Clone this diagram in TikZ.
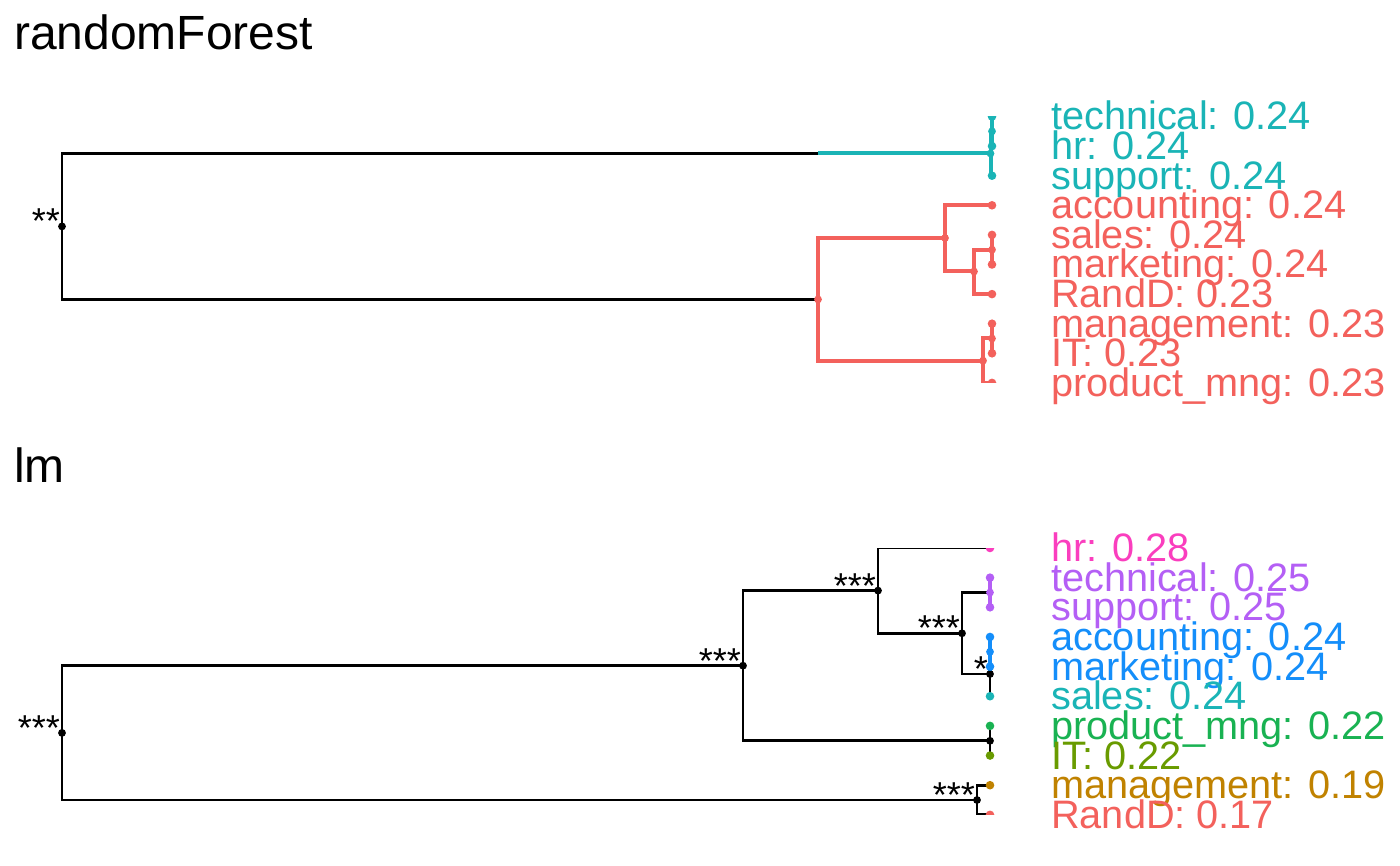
\documentclass[tikz,border=0pt]{standalone}
\usepackage{fontspec}
\setmainfont{Liberation Sans}
\usepackage{tikz}
\definecolor{clusred}{RGB}{243,97,92}
\definecolor{clusteal}{RGB}{26,180,182}
\definecolor{cluspink}{RGB}{250,62,190}
\definecolor{cluspurple}{RGB}{180,95,245}
\definecolor{clusblue}{RGB}{20,142,250}
\definecolor{clusgreen}{RGB}{25,178,82}
\definecolor{clusolive}{RGB}{105,155,0}
\definecolor{clusbrown}{RGB}{192,130,0}
\tikzset{dot/.style={circle,inner sep=0pt,outer sep=0pt,minimum size=7.8pt,fill=#1},dot/.default=black}
\tikzset{leafdot/.style={dot=#1,minimum size=8.6pt}}
\tikzset{branch/.style={black,line width=2.8pt}}
\tikzset{clus/.style={draw=#1,line width=4pt}}
\tikzset{clusthin/.style={draw=#1,line width=3.4pt}}
\tikzset{leaf/.style={anchor=base west,inner sep=0pt,font=\fontsize{39.7}{40}\selectfont}}
\tikzset{sig/.style={anchor=base east,inner sep=0pt,font=\fontsize{36}{36}\selectfont}}
\tikzset{title/.style={anchor=base west,inner sep=0pt,font=\fontsize{48}{49}\selectfont}}
\begin{document}
\begin{tikzpicture}[x=1pt,y=-1pt]
  \useasboundingbox (0,0) rectangle (1400,866);
  % Titles
  \node[title] (rftitle) at (14,50) {randomForest};
  \node[title] (lmtitle) at (14,482) {lm};

  % randomForest: leaves and labels
  \foreach \n/\k/\txt/\col in {tech/0/technical: 0.24/clusteal,hr/1/hr: 0.24/clusteal,
    support/2/support: 0.24/clusteal,acc/3/accounting: 0.24/clusred,sales/4/sales: 0.24/clusred,
    mark/5/marketing: 0.24/clusred,RandD/6/RandD: 0.23/clusred,manag/7/management: 0.23/clusred,
    IT/8/IT: 0.23/clusred,prod/9/product\_mng: 0.23/clusred}
  {
    \coordinate (rf\n) at (992,{116.5+29.6*\k});
    \node[leaf,text=\col] (rf\n lab) at (1051,{130+29.6*\k}) {\txt};
  }
  % randomForest: inner nodes
  \coordinate (rfroot) at (62,226.4);
  \coordinate (rfcut) at (818,153.5);
  \coordinate (rft) at (990.5,153.5);
  \coordinate (rfg) at (992,131.3);
  \coordinate (rfred) at (818,299.4);
  \coordinate (rfa) at (945,238);
  \coordinate (rfc) at (974,271.5);
  \coordinate (rfd) at (992,249.7);
  \coordinate (rfb) at (983,360.7);
  \coordinate (rfe) at (992,338.5);

  \begin{scope}
    \clip (0,116.5) rectangle (1040,382.9);
    \draw[branch] (rfroot) |- (rfcut);
    \draw[branch] (rfroot) |- (rfred);
    \draw[clus=clusteal] (rfcut) -- (rft);
    \draw[clus=clusteal] (rft) |- (rfg);
    \draw[clus=clusteal] (rft) |- (rfsupport);
    \draw[clus=clusteal] (rfg) |- (rftech);
    \draw[clus=clusteal] (rfg) |- (rfhr);
    \draw[clus=clusred] (rfred) |- (rfa);
    \draw[clus=clusred] (rfred) |- (rfb);
    \draw[clus=clusred] (rfa) |- (rfacc);
    \draw[clus=clusred] (rfa) |- (rfc);
    \draw[clus=clusred] (rfc) |- (rfd);
    \draw[clus=clusred] (rfc) |- (rfRandD);
    \draw[clus=clusred] (rfd) |- (rfsales);
    \draw[clus=clusred] (rfd) |- (rfmark);
    \draw[clus=clusred] (rfb) |- (rfe);
    \draw[clus=clusred] (rfb) |- (rfprod);
    \draw[clus=clusred] (rfe) |- (rfmanag);
    \draw[clus=clusred] (rfe) |- (rfIT);
    % dots
    \node[dot] (rfroot dot) at (rfroot) {};
    \foreach \n in {rft,rfg}
      \node[dot=clusteal] (\n dot) at (\n) {};
    \foreach \n in {rfred,rfa,rfc,rfd,rfb,rfe}
      \node[dot=clusred] (\n dot) at (\n) {};
    \foreach \n in {tech,hr,support}
      \node[leafdot=clusteal] (rf\n dot) at (rf\n) {};
    \foreach \n in {acc,sales,mark,RandD,manag,IT,prod}
      \node[leafdot=clusred] (rf\n dot) at (rf\n) {};
  \end{scope}
  \node[sig] (rfroot sig) at ([xshift=-2pt,yshift=-7.5pt]rfroot) {**};

  % lm: leaves and labels
  \foreach \n/\k/\txt/\col in {hr/0/hr: 0.28/cluspink,tech/1/technical: 0.25/cluspurple,
    support/2/support: 0.25/cluspurple,acc/3/accounting: 0.24/clusblue,mark/4/marketing: 0.24/clusblue,
    sales/5/sales: 0.24/clusteal,prod/6/product\_mng: 0.22/clusgreen,IT/7/IT: 0.22/clusolive,
    manag/8/management: 0.19/clusbrown,RandD/9/RandD: 0.17/clusred}
  {
    \coordinate (lm\n) at (990,{548+29.65*\k});
    \node[leaf,text=\col] (lm\n lab) at (1051,{561.5+29.65*\k}) {\txt};
  }
  % lm: inner nodes
  \coordinate (lmroot) at (62,732.9);
  \coordinate (lma) at (743,665.7);
  \coordinate (lmc) at (878,590.6);
  \coordinate (lme) at (962,633.3);
  \coordinate (lmf) at (990,592.5);
  \coordinate (lmg) at (990,674);
  \coordinate (lmh) at (990,651.8);
  \coordinate (lmd) at (990,740.8);
  \coordinate (lmb) at (977,800);

  \begin{scope}
    \clip (0,548) rectangle (1040,814.9);
    \draw[branch] (lmroot) |- (lma);
    \draw[branch] (lmroot) |- (lmb);
    \draw[branch] (lma) |- (lmc);
    \draw[branch] (lma) |- (lmd);
    \draw[branch] (lmd) -- (lmprod);
    \draw[branch] (lmd) -- (lmIT);
    \draw[branch] (lmc) |- (lmhr);
    \draw[branch] (lmc) |- (lme);
    \draw[branch] (lme) |- (lmf);
    \draw[branch] (lme) |- (lmg);
    \draw[branch] (lmg) -- (lmsales);
    \draw[branch] (lmb) |- (lmmanag);
    \draw[branch] (lmb) |- (lmRandD);
    \draw[clusthin=cluspurple] (lmf) -- (lmtech);
    \draw[clusthin=cluspurple] (lmf) -- (lmsupport);
    \draw[clusthin=clusblue] (lmg) -- (lmh);
    \draw[clusthin=clusblue] (lmh) -- (lmacc);
    \draw[clusthin=clusblue] (lmh) -- (lmmark);
    % dots
    \foreach \n in {lmroot,lma,lmc,lme,lmg,lmd,lmb}
      \node[dot] (\n dot) at (\n) {};
    \node[dot=cluspurple] (lmf dot) at (lmf) {};
    \node[dot=clusblue] (lmh dot) at (lmh) {};
    \foreach \n/\col in {hr/cluspink,tech/cluspurple,support/cluspurple,acc/clusblue,
      mark/clusblue,sales/clusteal,prod/clusgreen,IT/clusolive,manag/clusbrown,RandD/clusred}
      \node[leafdot=\col] (lm\n dot) at (lm\n) {};
  \end{scope}
  \foreach \n/\s in {lmroot/***,lma/***,lmc/***,lme/***,lmg/*,lmb/***}
    \node[sig] (\n sig) at ([xshift=-2pt,yshift=-7.5pt]\n) {\s};
\end{tikzpicture}
\end{document}
